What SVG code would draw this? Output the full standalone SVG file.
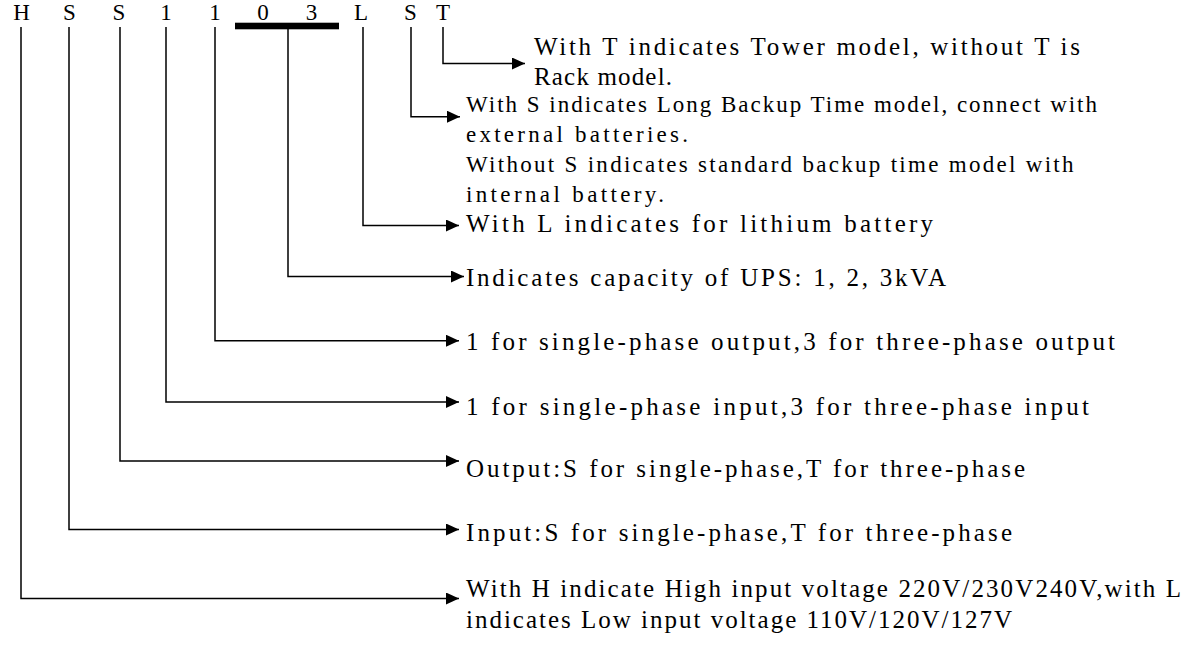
<svg xmlns="http://www.w3.org/2000/svg" width="1202" height="647" viewBox="0 0 1202 647">
<style>
text{font-family:"Liberation Serif","Times New Roman",serif;fill:#000}
.t{font-size:25px}
.s{font-size:23px}
.k{font-size:23px;text-anchor:middle}
.c{fill:none;stroke:#000;stroke-width:1.5}
</style>
<defs>
<marker id="ah" markerUnits="userSpaceOnUse" markerWidth="13" markerHeight="13" refX="13" refY="6" orient="auto">
<path d="M0,0 L13,6 L0,12 z" fill="#000"/>
</marker>
</defs>
<rect width="1202" height="647" fill="#fff"/>
<g id="code">
<text class="k" x="21.5" y="20">H</text>
<text class="k" x="69.5" y="20">S</text>
<text class="k" x="119" y="20">S</text>
<text class="k" x="166" y="20">1</text>
<text class="k" x="215" y="20">1</text>
<text class="k" x="263" y="20">0</text>
<text class="k" x="311.5" y="20">3</text>
<text class="k" x="361" y="20">L</text>
<text class="k" x="410.5" y="20">S</text>
<text class="k" x="443" y="20">T</text>
<rect x="235" y="22.7" width="104" height="6.6" fill="#000"/>
</g>
<g id="connectors">
<path class="c" marker-end="url(#ah)" d="M443,27 V63.5 H525"/>
<path class="c" marker-end="url(#ah)" d="M411,27 V116.7 H460"/>
<path class="c" marker-end="url(#ah)" d="M363,27 V225.5 H459"/>
<path class="c" marker-end="url(#ah)" d="M288,29 V276.5 H464"/>
<path class="c" marker-end="url(#ah)" d="M215,27 V340.7 H459"/>
<path class="c" marker-end="url(#ah)" d="M166,27 V402 H459"/>
<path class="c" marker-end="url(#ah)" d="M120,27 V461 H459"/>
<path class="c" marker-end="url(#ah)" d="M69,27 V529.5 H459"/>
<path class="c" marker-end="url(#ah)" d="M21,27 V598.5 H459"/>
</g>
<g id="n-tower">
<text class="t" x="534" y="55" textLength="546" lengthAdjust="spacing">With T indicates Tower model, without T is</text>
<text class="t" x="534" y="85" textLength="138" lengthAdjust="spacing">Rack model.</text>
</g>
<g id="n-backup">
<text class="s" x="466" y="111.7" textLength="631" lengthAdjust="spacing">With S indicates Long Backup Time model, connect with</text>
<text class="s" x="466" y="141.5" textLength="222" lengthAdjust="spacing">external batteries.</text>
<text class="s" x="466" y="171.7" textLength="607.5" lengthAdjust="spacing">Without S indicates standard backup time model with</text>
<text class="s" x="466" y="201.7" textLength="198" lengthAdjust="spacing">internal battery.</text>
</g>
<g id="n-lithium">
<text class="t" x="466" y="232" textLength="467" lengthAdjust="spacing">With L indicates for lithium battery</text>
</g>
<g id="n-capacity">
<text class="t" x="466" y="285.5" textLength="480" lengthAdjust="spacing">Indicates capacity of UPS: 1, 2, 3kVA</text>
</g>
<g id="n-outphase">
<text class="t" x="466" y="350" textLength="649" lengthAdjust="spacing">1 for single-phase output,3 for three-phase output</text>
</g>
<g id="n-inphase">
<text class="t" x="466" y="414.5" textLength="623" lengthAdjust="spacing">1 for single-phase input,3 for three-phase input</text>
</g>
<g id="n-output">
<text class="t" x="466" y="477" textLength="559" lengthAdjust="spacing">Output:S for single-phase,T for three-phase</text>
</g>
<g id="n-input">
<text class="t" x="466" y="540.5" textLength="546" lengthAdjust="spacing">Input:S for single-phase,T for three-phase</text>
</g>
<g id="n-voltage">
<text class="t" x="466" y="596.7" textLength="715" lengthAdjust="spacing">With H indicate High input voltage 220V/230V240V,with L</text>
<text class="t" x="466" y="628" textLength="546" lengthAdjust="spacing">indicates Low input voltage 110V/120V/127V</text>
</g>
</svg>
